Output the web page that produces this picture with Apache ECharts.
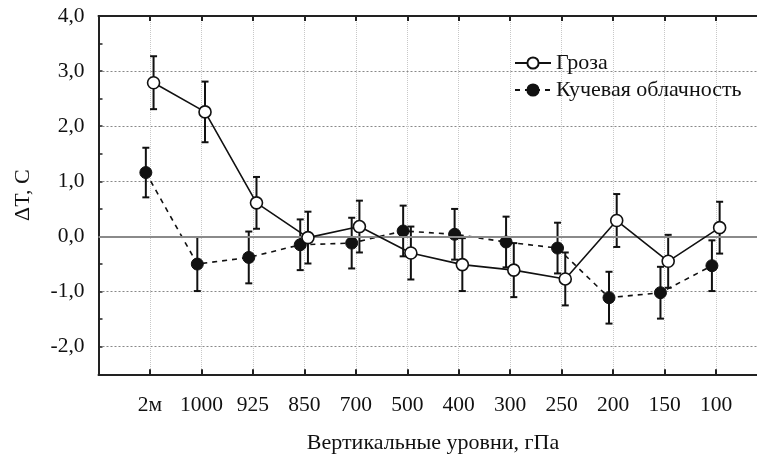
<!DOCTYPE html>
<html>
<head>
<meta charset="utf-8">
<script src="https://cdn.jsdelivr.net/npm/echarts@6/dist/echarts.min.js"></script>
<style>
html,body{margin:0;padding:0;background:#fff;}
#chart{width:757px;height:458px;}
</style>
</head>
<body>
<div id="chart"></div>
<script>
// ---- data ----
var levels = ['2м','1000','925','850','700','500','400','300','250','200','150','100'];
var seriesNames = ['Гроза','Кучевая облачность'];
var groza    = [2.79, 2.26, 0.61, -0.02, 0.18, -0.30, -0.51, -0.61, -0.77, 0.29, -0.45, 0.16];
var grozaErr = [0.48, 0.55, 0.47, 0.47, 0.47, 0.48, 0.48, 0.49, 0.48, 0.48, 0.48, 0.47];
var kuch     = [1.16, -0.50, -0.38, -0.15, -0.12, 0.10, 0.04, -0.10, -0.21, -1.11, -1.02, -0.53];
var kuchErr  = [0.45, 0.49, 0.47, 0.46, 0.46, 0.46, 0.46, 0.46, 0.46, 0.47, 0.47, 0.46];
var yTicks = [-2, -1, 0, 1, 2, 3, 4];

var FONT = 'Liberation Serif';
var DODGE_G = 0.07, DODGE_K = -0.08;

function pts(vals, dodge) {
  return vals.map(function (v, i) { return [i + 1 + dodge, v]; });
}
function errs(vals, e, dodge) {
  return vals.map(function (v, i) { return [i + 1 + dodge, v - e[i], v + e[i]]; });
}
function errRender(params, api) {
  var x = api.value(0);
  var lo = api.coord([x, api.value(1)]);
  var hi = api.coord([x, api.value(2)]);
  var cap = 3.5;
  var st = { stroke: '#111', lineWidth: 2 };
  return {
    type: 'group',
    children: [
      { type: 'line', shape: { x1: lo[0], y1: lo[1], x2: hi[0], y2: hi[1] }, style: st },
      { type: 'line', shape: { x1: lo[0] - cap, y1: lo[1], x2: lo[0] + cap, y2: lo[1] }, style: st },
      { type: 'line', shape: { x1: hi[0] - cap, y1: hi[1], x2: hi[0] + cap, y2: hi[1] }, style: st }
    ]
  };
}

var chart = echarts.init(document.getElementById('chart'), null, { renderer: 'canvas' });
var option = {
  animation: false,
  backgroundColor: '#fff',
  textStyle: { fontFamily: FONT, color: '#111' },
  grid: { left: 98.5, top: 16, width: 669, height: 358.3, containLabel: false, outerBoundsMode: 'none' },
  legend: {
    orient: 'vertical',
    left: 509, top: 47,
    itemWidth: 36, itemHeight: 14, itemGap: 5,
    textStyle: { fontFamily: FONT, fontSize: 22, color: '#111' },
    data: seriesNames
  },
  xAxis: [{
    type: 'value', min: 0, max: 13, interval: 1,
    name: 'Вертикальные уровни, гПа', nameLocation: 'middle', nameGap: 58,
    nameTextStyle: { fontFamily: FONT, fontSize: 22, color: '#111' },
    axisLine: { onZero: false, lineStyle: { color: '#222', width: 2 } },
    axisTick: { inside: true, length: 5, lineStyle: { color: '#222', width: 2 } },
    axisLabel: {
      fontFamily: FONT, fontSize: 21.5, color: '#111', margin: 20,
      formatter: function (v) { return (v >= 1 && v <= levels.length) ? levels[v - 1] : ''; }
    },
    splitLine: { show: true, lineStyle: { color: '#c8c8c8', type: 'dotted', width: 1 } }
  }, {
    type: 'value', position: 'top', min: 0, max: 13, interval: 1,
    axisLine: { show: true, onZero: false, lineStyle: { color: '#222', width: 2 } },
    axisTick: { inside: true, length: 5, lineStyle: { color: '#222', width: 2 } },
    axisLabel: { show: false },
    splitLine: { show: false }
  }],
  yAxis: {
    type: 'value', min: -2.5, max: 4, interval: 0.5,
    name: 'ΔT, C', nameLocation: 'middle', nameGap: 64, nameRotate: 90,
    nameTextStyle: { fontFamily: FONT, fontSize: 22, color: '#111' },
    axisLine: { show: true, onZero: false, lineStyle: { color: '#222', width: 2 } },
    axisTick: { inside: true, length: 4, lineStyle: { color: '#222', width: 1.5 } },
    axisLabel: {
      fontFamily: FONT, fontSize: 21.5, color: '#111', margin: 14,
      formatter: function (v) {
        return yTicks.indexOf(v) >= 0 ? v.toFixed(1).replace('.', ',') : '';
      }
    },
    splitLine: { show: true, lineStyle: { color: ['rgba(0,0,0,0)', '#888'], type: [2, 2], width: 1 } }
  },
  series: [
    {
      name: 'zero', type: 'line', data: [], silent: true,
      markLine: {
        silent: true, symbol: 'none', label: { show: false },
        lineStyle: { color: '#8a8a8a', type: 'solid', width: 2 },
        data: [{ yAxis: 0 }]
      }, z: 1
    },
    {
      name: seriesNames[1] + ' err', type: 'custom', renderItem: errRender,
      data: errs(kuch, kuchErr, DODGE_K), encode: { x: 0, y: [1, 2] }, z: 2, silent: true
    },
    {
      name: seriesNames[1], type: 'line', data: pts(kuch, DODGE_K),
      symbol: 'circle', symbolSize: 12,
      lineStyle: { color: '#111', width: 1.6, type: [5, 5] },
      itemStyle: { color: '#111', borderColor: '#111', borderWidth: 1 },
      z: 3
    },
    {
      name: seriesNames[0] + ' err', type: 'custom', renderItem: errRender,
      data: errs(groza, grozaErr, DODGE_G), encode: { x: 0, y: [1, 2] }, z: 4, silent: true
    },
    {
      name: seriesNames[0], type: 'line', data: pts(groza, DODGE_G),
      symbol: 'circle', symbolSize: 12,
      lineStyle: { color: '#111', width: 1.6 },
      itemStyle: { color: '#fff', borderColor: '#111', borderWidth: 1.6 },
      z: 5
    }
  ]
};
chart.setOption(option);
</script>
</body>
</html>
